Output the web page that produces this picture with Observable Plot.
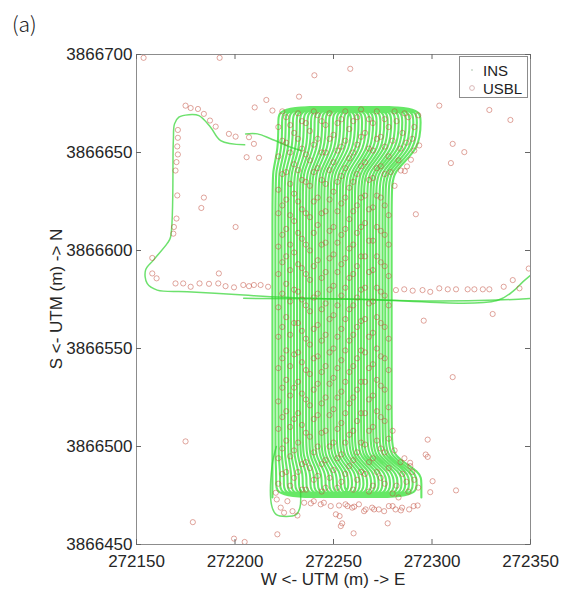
<!DOCTYPE html>
<html>
<head>
<meta charset="utf-8">
<script src="https://cdn.jsdelivr.net/npm/d3@7"></script>
<script src="https://cdn.jsdelivr.net/npm/@observablehq/plot@0.6"></script>
<style>
  html, body { margin: 0; padding: 0; background: #fff; }
  #wrap { position: relative; width: 567px; height: 592px; font-family: "Liberation Sans", Arial, sans-serif; color: #262626; }
  #tag { position: absolute; left: 12px; top: 8px; font-family: "Noto Sans CJK KR", "DejaVu Sans", sans-serif; font-size: 21px; font-weight: 300; color: #222; }
  .alab { position: absolute; font-size: 17px; white-space: nowrap; color: #262626; }
  #ylab { left: 57px; top: 299px; transform: translate(-50%, -50%) rotate(-90deg); }
  #xlab { left: 333px; top: 580px; transform: translate(-50%, -50%); }
  #legend { position: absolute; left: 459px; top: 56px; width: 67px; height: 40px; border: 1px solid #8c8c8c; background: #fff; font-size: 15px; color: #222; }
  #legend span { position: absolute; left: 23px; line-height: 1; }
  #legend svg { position: absolute; left: 0; top: 0; }
</style>
</head>
<body>
<div id="wrap">
  <div id="chart"></div>
  <div id="tag">(a)</div>
  <div id="ylab" class="alab">S &lt;- UTM (m) -&gt; N</div>
  <div id="xlab" class="alab">W &lt;- UTM (m) -&gt; E</div>
  <div id="legend">
    <svg width="67" height="40"><circle cx="12" cy="13" r="1" fill="#c8d8c8"></circle><circle cx="12" cy="31" r="2.4" fill="none" stroke="#d6b0b0" stroke-width="0.9"></circle></svg>
    <span style="top:6px">INS</span>
    <span style="top:24px">USBL</span>
  </div>
</div>
<script>
// ---- axis ticks ----
const xTicks = [272150, 272200, 272250, 272300, 272350];
const yTicks = [3866450, 3866500, 3866550, 3866600, 3866650, 3866700];

// ---- INS survey block: easting of each survey line (middle, top end, bottom end) ----
const insMidE = [272219.0, 272220.5, 272222.1, 272223.6, 272225.2, 272226.9, 272228.3, 272229.9, 272231.5, 272233.0,
  272234.4, 272236.1, 272237.7, 272239.1, 272240.7, 272242.4, 272243.8, 272245.3, 272247.0, 272248.5,
  272250.0, 272251.6, 272253.2, 272254.6, 272256.2, 272257.9, 272259.3, 272260.8, 272262.5, 272264.0,
  272265.4, 272267.1, 272268.7, 272270.1, 272271.6, 272273.3, 272274.9, 272276.3, 272277.9, 272279.5];
const insTopE = [272222.0, 272223.9, 272225.7, 272227.5, 272229.4, 272231.3, 272233.0, 272234.9, 272236.8, 272238.6,
  272240.4, 272242.3, 272244.2, 272246.0, 272247.8, 272249.7, 272251.6, 272253.4, 272255.3, 272257.1,
  272259.0, 272260.9, 272262.7, 272264.5, 272266.4, 272268.3, 272270.1, 272271.9, 272273.8, 272275.7,
  272277.5, 272279.3, 272281.2, 272283.1, 272284.9, 272286.7, 272288.6, 272290.5, 272292.3, 272294.2];
const insBotE = [272219.0, 272220.9, 272222.9, 272224.8, 272226.7, 272228.6, 272230.6, 272232.5, 272234.4, 272236.3,
  272238.3, 272240.2, 272242.1, 272244.0, 272246.0, 272247.9, 272249.8, 272251.7, 272253.7, 272255.6,
  272257.5, 272259.4, 272261.4, 272263.3, 272265.2, 272267.1, 272269.1, 272271.0, 272272.9, 272274.8,
  272276.8, 272278.7, 272280.6, 272282.5, 272284.5, 272286.4, 272288.3, 272290.2, 272292.2, 272294.6];
// northings of the track's way-points along each line: top turn ... bottom turn
const insLineN = [3866673.5, 3866666.5, 3866652, 3866640, 3866630, 3866505, 3866495, 3866487, 3866481, 3866474];

// ---- INS: transit legs outside the block (E, N way-points) ----
const insWestLoop = [[272204.9, 3866653.9], [272192.7, 3866656.1], [272187.6, 3866662.9], [272181.7, 3866668.8],
  [272176.6, 3866669.3], [272171.5, 3866668.0], [272169.3, 3866664.6], [272168.7, 3866656.1], [272167.3, 3866606.9],
  [272165.6, 3866603.6], [272158.6, 3866595.1], [272154.6, 3866590.0], [272155.4, 3866583.2], [272160.5, 3866579.8],
  [272175.8, 3866579.0], [272204.4, 3866577.3], [272218.1, 3866576.4], [272301.0, 3866574.2], [272333.0, 3866574.7],
  [272352.0, 3866575.7]];
const insEastLeg = [[272204.4, 3866575.6], [272260.0, 3866575.2], [272333.0, 3866574.5], [272341.8, 3866579.8],
  [272346.1, 3866584.0], [272352.0, 3866589.0]];
const insEntry = [[272205.4, 3866659.5], [272211.4, 3866659.5], [272218.1, 3866657.0], [272228.3, 3866652.7],
  [272233.4, 3866651.0]];
const insSouthLoop = [[272221.0, 3866500], [272218.8, 3866490], [272218.6, 3866470], [272221.0, 3866465.2],
  [272226.0, 3866464.3], [272231.0, 3866465.2], [272233.0, 3866469], [272233.2, 3866478]];

// ---- USBL fixes inside the block, by column ----
const usblColE = [272222, 272224, 272226, 272228, 272230, 272232, 272234, 272236, 272238, 272240, 272242, 272244,
  272246, 272248, 272250, 272252, 272254, 272256, 272258, 272260, 272262, 272264, 272266, 272268, 272270, 272272,
  272274, 272276, 272278];
const usblColN = [
  [3866663, 3866648, 3866631, 3866619, 3866602, 3866588, 3866571, 3866556, 3866540, 3866523, 3866509, 3866494, 3866481],
  [3866671, 3866656, 3866639, 3866623, 3866608, 3866594, 3866578, 3866561, 3866545, 3866530, 3866515, 3866499, 3866486],
  [3866668, 3866655, 3866640, 3866626, 3866611, 3866597, 3866583, 3866566, 3866549, 3866534, 3866518, 3866503, 3866487],
  [3866664, 3866650, 3866634, 3866618, 3866603, 3866590, 3866574, 3866557, 3866541, 3866526, 3866510, 3866495, 3866480],
  [3866660, 3866644, 3866629, 3866615, 3866599, 3866580, 3866563, 3866547, 3866530, 3866514, 3866498, 3866484],
  [3866670, 3866657, 3866641, 3866625, 3866609, 3866593, 3866579, 3866563, 3866548, 3866533, 3866517, 3866502, 3866487],
  [3866666, 3866652, 3866636, 3866621, 3866606, 3866591, 3866575, 3866559, 3866543, 3866527, 3866511, 3866491, 3866478],
  [3866665, 3866649, 3866635, 3866619, 3866603, 3866588, 3866572, 3866555, 3866539, 3866524, 3866507, 3866492, 3866478],
  [3866661, 3866646, 3866633, 3866617, 3866600, 3866585, 3866569, 3866552, 3866537, 3866521, 3866505, 3866489],
  [3866671, 3866654, 3866640, 3866625, 3866609, 3866592, 3866576, 3866560, 3866545, 3866529, 3866514, 3866497, 3866483],
  [3866669, 3866657, 3866642, 3866627, 3866613, 3866595, 3866578, 3866562, 3866546, 3866532, 3866516, 3866500, 3866485],
  [3866666, 3866650, 3866636, 3866619, 3866603, 3866586, 3866570, 3866554, 3866538, 3866522, 3866507, 3866491, 3866477],
  [3866664, 3866650, 3866634, 3866620, 3866604, 3866589, 3866573, 3866557, 3866541, 3866525, 3866508, 3866493, 3866479],
  [3866670, 3866657, 3866641, 3866626, 3866610, 3866596, 3866580, 3866565, 3866548, 3866532, 3866516, 3866500, 3866484],
  [3866659, 3866645, 3866630, 3866612, 3866598, 3866582, 3866567, 3866550, 3866535, 3866519, 3866502, 3866488],
  [3866665, 3866651, 3866635, 3866620, 3866604, 3866589, 3866572, 3866556, 3866540, 3866525, 3866509, 3866494, 3866479],
  [3866667, 3866653, 3866638, 3866624, 3866608, 3866593, 3866577, 3866560, 3866544, 3866528, 3866512, 3866496, 3866482],
  [3866671, 3866656, 3866642, 3866627, 3866611, 3866596, 3866581, 3866565, 3866549, 3866533, 3866517, 3866502, 3866486],
  [3866662, 3866647, 3866632, 3866616, 3866601, 3866586, 3866570, 3866554, 3866538, 3866522, 3866506, 3866490],
  [3866666, 3866650, 3866635, 3866620, 3866603, 3866588, 3866572, 3866557, 3866541, 3866525, 3866508, 3866493, 3866478],
  [3866668, 3866654, 3866639, 3866623, 3866609, 3866592, 3866576, 3866561, 3866545, 3866529, 3866513, 3866497, 3866483],
  [3866672, 3866658, 3866643, 3866627, 3866612, 3866597, 3866580, 3866564, 3866549, 3866533, 3866517, 3866502, 3866487],
  [3866660, 3866645, 3866628, 3866614, 3866597, 3866581, 3866565, 3866548, 3866533, 3866517, 3866501, 3866486],
  [3866667, 3866652, 3866636, 3866621, 3866605, 3866589, 3866573, 3866556, 3866540, 3866524, 3866508, 3866492, 3866477],
  [3866665, 3866651, 3866637, 3866622, 3866605, 3866590, 3866574, 3866558, 3866542, 3866526, 3866510, 3866494, 3866480],
  [3866671, 3866657, 3866642, 3866628, 3866612, 3866597, 3866581, 3866566, 3866550, 3866534, 3866518, 3866503, 3866487],
  [3866658, 3866643, 3866627, 3866610, 3866594, 3866579, 3866563, 3866546, 3866531, 3866515, 3866499, 3866484],
  [3866667, 3866653, 3866639, 3866623, 3866608, 3866592, 3866577, 3866561, 3866545, 3866529, 3866513, 3866497, 3866481],
  [3866663, 3866648, 3866618, 3866603, 3866587, 3866572, 3866555, 3866539, 3866520, 3866504, 3866489]
];
// ---- USBL fixes: other (E, N) ----
const usblOther = [
  [272282, 3866666], [272285, 3866660], [272288, 3866668], [272291, 3866663], [272284, 3866652], [272280, 3866656], [272287, 3866655], [272293, 3866669],
  [272281, 3866671], [272286, 3866670], [272290, 3866657], [272283, 3866646], [272279, 3866640], [272281, 3866633],
  [272282, 3866480], [272285, 3866486], [272288, 3866477], [272291, 3866483], [272284, 3866492], [272289, 3866490], [272293, 3866479], [272280, 3866476],
  [272281, 3866498], [272286, 3866494], [272290, 3866487], [272283, 3866474], [272287, 3866482], [272280, 3866508],
  [272153.6, 3866698.3], [272192.2, 3866698.3], [272240.3, 3866689.4], [272258.5, 3866692.7],
  [272174.9, 3866673.9], [272177.5, 3866672.7], [272181.2, 3866672.2], [272184.2, 3866669.7], [272187.3, 3866666.3],
  [272190.2, 3866663.2], [272196.9, 3866659.5], [272200.3, 3866658.1], [272207.1, 3866657.8], [272209.6, 3866654.4],
  [272205.9, 3866647.6], [272212.2, 3866647.3], [272215.9, 3866676.8], [272210.0, 3866673.0], [272219.0, 3866671.4],
  [272232.5, 3866678.5], [272171.0, 3866661.5], [272171.0, 3866657.5], [272170.7, 3866653.1], [272171.0, 3866649.0],
  [272170.3, 3866645.1], [272169.8, 3866640.8], [272170.7, 3866628.1], [272170.3, 3866616.3], [272169.0, 3866612.0],
  [272168.7, 3866608.6], [272184.2, 3866627.0], [272182.9, 3866621.7], [272200.3, 3866612.0], [272158.0, 3866596.2],
  [272158.0, 3866588.3], [272160.2, 3866585.8], [272191.8, 3866588.3],
  [272169.8, 3866583.2], [272173.7, 3866583.2], [272177.5, 3866581.5], [272182.0, 3866583.2], [272186.8, 3866583.0],
  [272191.5, 3866583.2], [272195.2, 3866581.8], [272199.5, 3866581.2], [272204.2, 3866582.4], [272207.1, 3866581.8],
  [272209.6, 3866582.4], [272213.0, 3866582.4], [272216.8, 3866581.5],
  [272281.7, 3866579.8], [272285.9, 3866580.2], [272290.2, 3866579.5], [272295.2, 3866579.8], [272299.1, 3866578.9],
  [272303.7, 3866580.7], [272308.0, 3866580.2], [272312.2, 3866580.2], [272318.1, 3866580.2], [272321.5, 3866580.2],
  [272325.8, 3866580.2], [272329.1, 3866580.2], [272336.4, 3866581.5], [272341.0, 3866584.9], [272344.4, 3866580.7],
  [272349.1, 3866590.8], [272295.8, 3866564.2], [272330.8, 3866567.6], [272310.5, 3866535.4],
  [272303.7, 3866673.9], [272329.1, 3866671.7], [272339.8, 3866666.6], [272310.5, 3866654.4], [272316.4, 3866650.2],
  [272309.6, 3866644.6], [272291.8, 3866618.5], [272293.5, 3866653.6], [272291.0, 3866651.0], [272289.3, 3866646.3],
  [272287.3, 3866642.9], [272284.2, 3866640.8], [272286.2, 3866640.5],
  [272174.9, 3866502.6], [272178.6, 3866461.4], [272199.5, 3866453.0], [272204.9, 3866451.3], [272221.5, 3866455.2],
  [272220.7, 3866476.4], [272221.2, 3866473.0], [272223.2, 3866468.8], [272226.6, 3866472.1], [272224.9, 3866466.2],
  [272229.2, 3866467.0], [272231.7, 3866464.8],
  [272297.8, 3866503.5], [272297.8, 3866494.7], [272288.9, 3866491.7], [272300.3, 3866482.3], [272299.1, 3866476.7],
  [272312.2, 3866477.6], [272277.5, 3866460.8], [272260.2, 3866455.7], [272253.7, 3866459.4], [272251.2, 3866465.4],
  [272292.7, 3866469.9], [272288.4, 3866467.9], [272284.2, 3866467.4], [272280.0, 3866469.6], [272275.7, 3866467.0],
  [272270.6, 3866467.9], [272265.5, 3866467.0], [272260.5, 3866469.3], [272257.1, 3866469.6], [272252.8, 3866469.9],
  [272248.6, 3866469.6], [272243.5, 3866470.5], [272238.5, 3866471.0], [272235.1, 3866471.3],
  [272240.0, 3866472.1], [272245.1, 3866471.3], [272256.1, 3866470.5], [272259.5, 3866468.8], [272262.9, 3866470.5],
  [272266.3, 3866467.9], [272269.6, 3866468.8], [272273.0, 3866467.9], [272278.1, 3866469.6], [272281.5, 3866467.9],
  [272284.8, 3866468.8], [272290.7, 3866469.6], [272253.1, 3866464.5], [272254.4, 3866460.8], [272296.8, 3866495.9]
];

// ---- build tables ----
const [nTop, nTopIn, nTopBend, nMidTop1, nMidTop2, nMidBot2, nMidBot1, nBotBend, nBotIn, nBot] = insLineN;
function lineUp(i) {
  return [
    [insBotE[i], nBot], [insBotE[i], nBotIn], [insBotE[i], nBotBend],
    [insMidE[i], nMidBot1], [insMidE[i], nMidBot2], [insMidE[i], nMidTop2], [insMidE[i], nMidTop1],
    [insTopE[i], nTopBend], [insTopE[i], nTopIn], [insTopE[i], nTop]
  ];
}
const half = insMidE.length / 2;
const block = [];
for (let i = 0; i < half; i++) {
  block.push(...lineUp(i));
  block.push(...lineUp(i + half).reverse());
}
const blockRows = block.map(([e, n]) => ({e, n}));
const legs = [];
[insWestLoop, insEastLeg, insEntry, insSouthLoop].forEach((seg, k) => seg.forEach(([e, n]) => legs.push({e, n, k})));
const usbl = [];
usblColE.forEach((e, c) => usblColN[c].forEach(n => usbl.push({e, n})));
usblOther.forEach(([e, n]) => usbl.push({e, n}));

const W = 567, H = 592, mL = 136, mR = 37, mT = 54, mB = 48;
const innerW = W - mL - mR, innerH = H - mT - mB;
const tickLen = 5;

const chart = Plot.plot({
  width: W, height: H,
  marginLeft: mL, marginRight: mR, marginTop: mT, marginBottom: mB,
  style: {fontFamily: "'Liberation Sans', Arial, sans-serif", fontSize: "17px", color: "#262626", background: "transparent"},
  x: {domain: [272150, 272350], ticks: xTicks, tickSize: 0, tickPadding: 10, tickFormat: d => String(d), label: null},
  y: {domain: [3866450, 3866700], ticks: yTicks, tickSize: 0, tickPadding: 4, tickFormat: d => String(d), label: null},
  marks: [
    Plot.line(blockRows, {x: "e", y: "n", curve: "basis", stroke: "#33e033", strokeWidth: 2.1, strokeOpacity: 0.75, clip: true}),
    Plot.line(legs, {x: "e", y: "n", z: "k", curve: "catmull-rom", stroke: "#2fd42f", strokeWidth: 1.5, strokeOpacity: 0.7, clip: true}),
    Plot.dot(usbl, {x: "e", y: "n", r: 2.6, stroke: "#c04a3a", strokeOpacity: 0.55, strokeWidth: 0.9, fill: "none", clip: true}),
    Plot.frame({stroke: "#8c8c8c"}),
    Plot.tickX(xTicks, {x: d => d, stroke: "#666", insetTop: innerH - tickLen}),
    Plot.tickX(xTicks, {x: d => d, stroke: "#666", insetBottom: innerH - tickLen}),
    Plot.tickY(yTicks, {y: d => d, stroke: "#666", insetRight: innerW - tickLen}),
    Plot.tickY(yTicks, {y: d => d, stroke: "#666", insetLeft: innerW - tickLen})
  ]
});
document.getElementById("chart").appendChild(chart);
</script>
</body>
</html>
